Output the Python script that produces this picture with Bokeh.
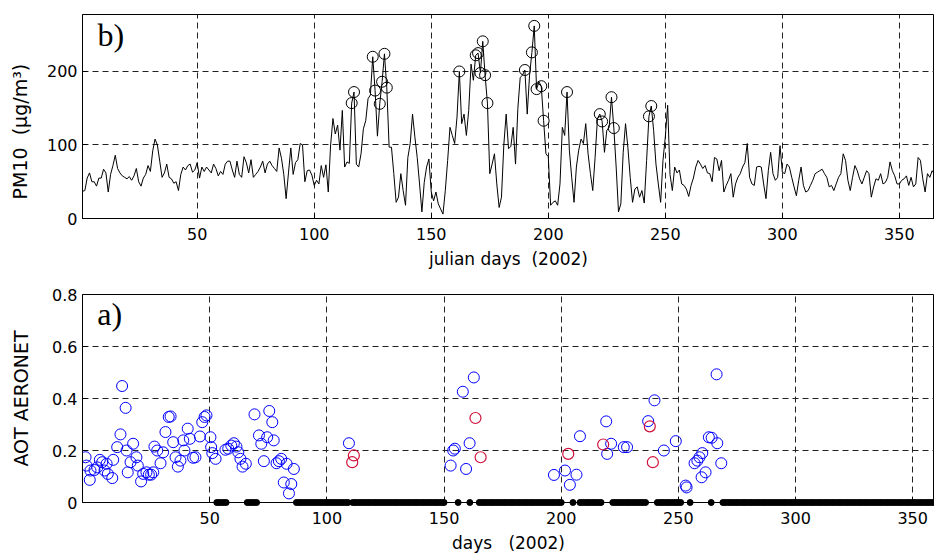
from bokeh.plotting import figure
from bokeh.models import FixedTicker, Range1d, Label, CustomJSTickFormatter
from bokeh.layouts import column
from bokeh.embed import file_html
from bokeh.resources import INLINE

# ---------------- data ----------------
days = list(range(1, 366))
pm10 = [
    37, 38, 55, 62, 50, 50, 44, 55, 55, 67,
    62, 36, 60, 72, 86, 68, 62, 58, 56, 54,
    57, 52, 58, 68, 50, 44, 55, 60, 72, 64,
    92, 108, 100, 78, 56, 62, 74, 56, 54, 48,
    50, 38, 60, 70, 66, 72, 74, 63, 66, 76,
    55, 70, 64, 70, 66, 62, 74, 68, 58, 64,
    60, 74, 78, 78, 66, 56, 78, 60, 56, 84,
    76, 62, 80, 56, 60, 64, 70, 78, 62, 74,
    78, 72, 68, 64, 96, 82, 60, 27, 62, 96,
    60, 76, 80, 102, 100, 50, 65, 66, 59, 45,
    52, 47, 72, 56, 73, 36, 100, 136, 115, 127,
    93, 147, 70, 77, 75, 157, 172, 74, 70, 88,
    122, 133, 163, 168, 220, 174, 112, 156, 186, 224,
    178, 97, 97, 61, 22, 29, 61, 38, 18, 83,
    102, 142, 111, 83, 47, 9, 49, 70, 81, 36,
    24, 36, 20, 13, 6, 38, 79, 124, 113, 102,
    138, 200, 129, 142, 113, 147, 210, 188, 222, 225,
    198, 241, 195, 157, 61, 74, 88, 47, 15, 29,
    100, 142, 95, 98, 124, 74, 150, 192, 195, 202,
    142, 195, 226, 262, 176, 186, 180, 133, 88, 84,
    18, 22, 24, 18, 47, 124, 113, 172, 93, 56,
    22, 70, 93, 108, 102, 129, 88, 61, 38, 83,
    136, 142, 132, 90, 120, 124, 165, 123, 70, 9,
    20, 90, 129, 97, 56, 22, 40, 43, 29, 38,
    21, 79, 139, 153, 120, 74, 47, 22, 79, 111,
    154, 60, 38, 70, 62, 66, 47, 45, 40, 30,
    45, 55, 70, 79, 74, 68, 72, 62, 61, 50,
    83, 81, 65, 79, 36, 45, 52, 61, 29, 47,
    56, 61, 70, 76, 102, 56, 47, 45, 70, 71,
    70, 47, 27, 65, 90, 61, 52, 56, 99, 63,
    61, 74, 70, 56, 43, 31, 52, 70, 45, 36,
    38, 45, 52, 61, 63, 65, 67, 61, 56, 43,
    45, 38, 47, 56, 61, 88, 79, 52, 38, 56,
    72, 65, 54, 47, 56, 65, 61, 29, 43, 54,
    52, 61, 47, 49, 56, 77, 65, 58, 47, 47,
    52, 54, 58, 45, 56, 43, 47, 83, 79, 54,
    36, 61, 56, 65, 60,
]
# days whose PM10 value is circled
pm10_circle_days = [116, 117, 125, 126, 128, 129, 130, 131, 162, 169, 170, 171,
                    172, 173, 174, 190, 193, 194, 195, 197, 198, 208, 222, 223,
                    227, 228, 243, 244]

aot_blue_days = [-3.0, -2.6, -1.2, -0.9, 0.8, 2.0, 3.1, 4.1, 5.1, 6.0, 6.5, 8.4, 8.8,
                 10.5, 11.9, 12.6, 14.1, 14.5, 15.0, 16.2, 17.3, 18.7, 19.3, 20.7,
                 21.6, 23.0, 24.0, 25.0, 25.9, 26.4, 27.6, 29.0, 30.1, 31.1, 32.5,
                 33.3, 34.4, 35.4, 36.4, 37.5, 38.7, 39.2, 40.6, 41.5, 42.9, 43.9,
                 45.8, 46.8, 47.8, 48.6, 50.3, 50.6, 51.1, 52.5,
                 56.7, 57.9, 59.2, 60.3, 61.4, 62.2, 63.1, 64.0, 65.4,
                 69.1, 71.0, 72.0, 73.1, 74.5, 75.4, 76.7, 77.3, 78.5, 79.5, 80.5,
                 81.6, 82.8, 83.8, 84.8, 85.9,
                 109.4,
                 152.8, 153.9, 154.6, 158.0, 159.4, 160.9, 162.7,
                 196.9, 201.6, 203.7, 206.5, 208.0,
                 219.2, 219.6, 221.3, 226.7, 228.1, 237.1, 239.8, 243.8, 248.9,
                 253.1, 253.5, 256.9, 258.1, 259.0, 260.2, 259.9, 261.6, 263.0,
                 264.2, 266.6, 266.3, 268.3]
aot_blue = [0.174, 0.142, 0.087, 0.123, 0.125, 0.135, 0.164, 0.155, 0.123, 0.149,
            0.110, 0.094, 0.164, 0.213, 0.262, 0.448, 0.364, 0.200, 0.116, 0.155,
            0.226, 0.174, 0.142, 0.081, 0.110, 0.116, 0.107, 0.107, 0.116, 0.215,
            0.200, 0.151, 0.193, 0.271, 0.329, 0.331, 0.232, 0.174, 0.138, 0.161,
            0.239, 0.200, 0.284, 0.245, 0.172, 0.174, 0.254, 0.309, 0.329, 0.335,
            0.251, 0.213, 0.190, 0.168,
            0.203, 0.207, 0.219, 0.228, 0.215, 0.193, 0.168, 0.138, 0.149,
            0.339, 0.258, 0.226, 0.159, 0.251, 0.352, 0.309, 0.239, 0.151, 0.159,
            0.168, 0.077, 0.149, 0.035, 0.071, 0.129,
            0.228,
            0.142, 0.200, 0.207, 0.426, 0.129, 0.228, 0.481,
            0.106, 0.123, 0.068, 0.107, 0.255,
            0.312, 0.187, 0.226, 0.213, 0.213, 0.313, 0.393, 0.200, 0.236,
            0.065, 0.058, 0.151, 0.161, 0.174, 0.190, 0.097, 0.116, 0.251,
            0.249, 0.228, 0.493, 0.151]
aot_red_days = [110.8, 111.5, 163.4, 165.6, 203.0, 217.9, 237.8, 239.1]
aot_red = [0.155, 0.181, 0.325, 0.174, 0.187, 0.223, 0.293, 0.155]

# runs of days marked on the zero line (first day, last day)
zero_runs = [(53, 57), (66, 70), (87, 109), (111, 150), (156, 156), (161, 161),
             (165, 200), (205, 205), (208, 217), (222, 236), (241, 251),
             (255, 255), (264, 264), (269, 359)]

x_ticks = [50, 100, 150, 200, 250, 300, 350]
pm10_ticks = [0, 100, 200]
aot_ticks = [0, 0.2, 0.4, 0.6, 0.8]

# ---------------- derived ----------------
circle_vals = [pm10[d - 1] for d in pm10_circle_days]
zero_days = [d for a, b in zero_runs for d in range(a, b + 1)]
zero_vals = [0] * len(zero_days)

SANS = "DejaVu Sans"
SERIF = "Liberation Serif"
NB = "\u00a0"


def style(p, xlabel, ylabel, ylabel_standoff):
    p.background_fill_color = "white"
    p.border_fill_color = "white"
    p.outline_line_color = "black"
    p.outline_line_width = 1
    p.outline_line_alpha = 1
    p.xaxis.ticker = FixedTicker(ticks=x_ticks)
    for ax in p.axis:
        ax.axis_line_color = "black"
        ax.major_tick_line_color = "black"
        ax.major_tick_in = 5
        ax.major_tick_out = 0
        ax.minor_tick_line_color = None
        ax.major_label_text_font = SANS
        ax.major_label_text_font_size = "16px"
        ax.major_label_text_color = "black"
        ax.axis_label_text_font = SANS
        ax.axis_label_text_font_style = "normal"
        ax.axis_label_text_color = "black"
    p.yaxis.major_label_standoff = 5
    p.xaxis.major_label_standoff = 9
    p.xaxis.axis_label = xlabel
    p.yaxis.axis_label = ylabel
    p.xaxis.axis_label_text_font_size = "17px"
    p.yaxis.axis_label_text_font_size = "19px"
    p.xaxis.axis_label_standoff = 6
    p.yaxis.axis_label_standoff = ylabel_standoff
    p.grid.grid_line_color = "#222222"
    p.grid.grid_line_dash = "6 4"
    p.grid.grid_line_width = 1


p1 = figure(frame_width=852, frame_height=204,
            x_range=Range1d(1, 365), y_range=Range1d(0, 277.5),
            min_border_left=82, min_border_right=0, min_border_top=14,
            min_border_bottom=60,
            output_backend="svg", toolbar_location=None)
# trailing no-break spaces move the title slightly below the frame centre,
# as in the original
style(p1, "julian days" + NB * 2 + "(2002)",
      "PM10" + NB * 2 + "(\u03bcg/m\u00b3)" + NB * 5, 13)
p1.yaxis.ticker = FixedTicker(ticks=pm10_ticks)
p1.line(days, pm10, line_color="black", line_width=1)
p1.scatter(pm10_circle_days, circle_vals, marker="circle", size=11,
           fill_alpha=0, line_color="black", line_width=1)
p1.add_layout(Label(x=7.4, y=250, text="b)", text_font=SERIF,
                    text_font_size="32px", text_color="black",
                    text_baseline="alphabetic"))

p2 = figure(frame_width=852, frame_height=208,
            x_range=Range1d(-4.3, 359.3), y_range=Range1d(0, 0.8),
            min_border_left=82, min_border_right=0, min_border_top=16,
            min_border_bottom=56,
            output_backend="svg", toolbar_location=None)
style(p2, "days" + NB * 3 + "(2002)", "AOT AERONET", 17)
p2.yaxis.ticker = FixedTicker(ticks=aot_ticks)
p2.yaxis.formatter = CustomJSTickFormatter(
    code="return (Math.round(tick*10)/10).toString();")
p2.scatter(aot_blue_days, aot_blue, marker="circle", size=11, fill_alpha=0,
           line_color="#0000ff", line_width=1)
p2.scatter(aot_red_days, aot_red, marker="circle", size=11, fill_alpha=0,
           line_color="#d0103a", line_width=1.2)
p2.scatter(zero_days, zero_vals, marker="circle", size=6, fill_color="black",
           line_color="black", level="overlay")
p2.add_layout(Label(x=2.0, y=0.725, text="a)", text_font=SERIF,
                    text_font_size="32px", text_color="black",
                    text_baseline="alphabetic"))

layout = column(p1, p2, spacing=0)
open("out.html", "w").write(file_html(layout, INLINE))
